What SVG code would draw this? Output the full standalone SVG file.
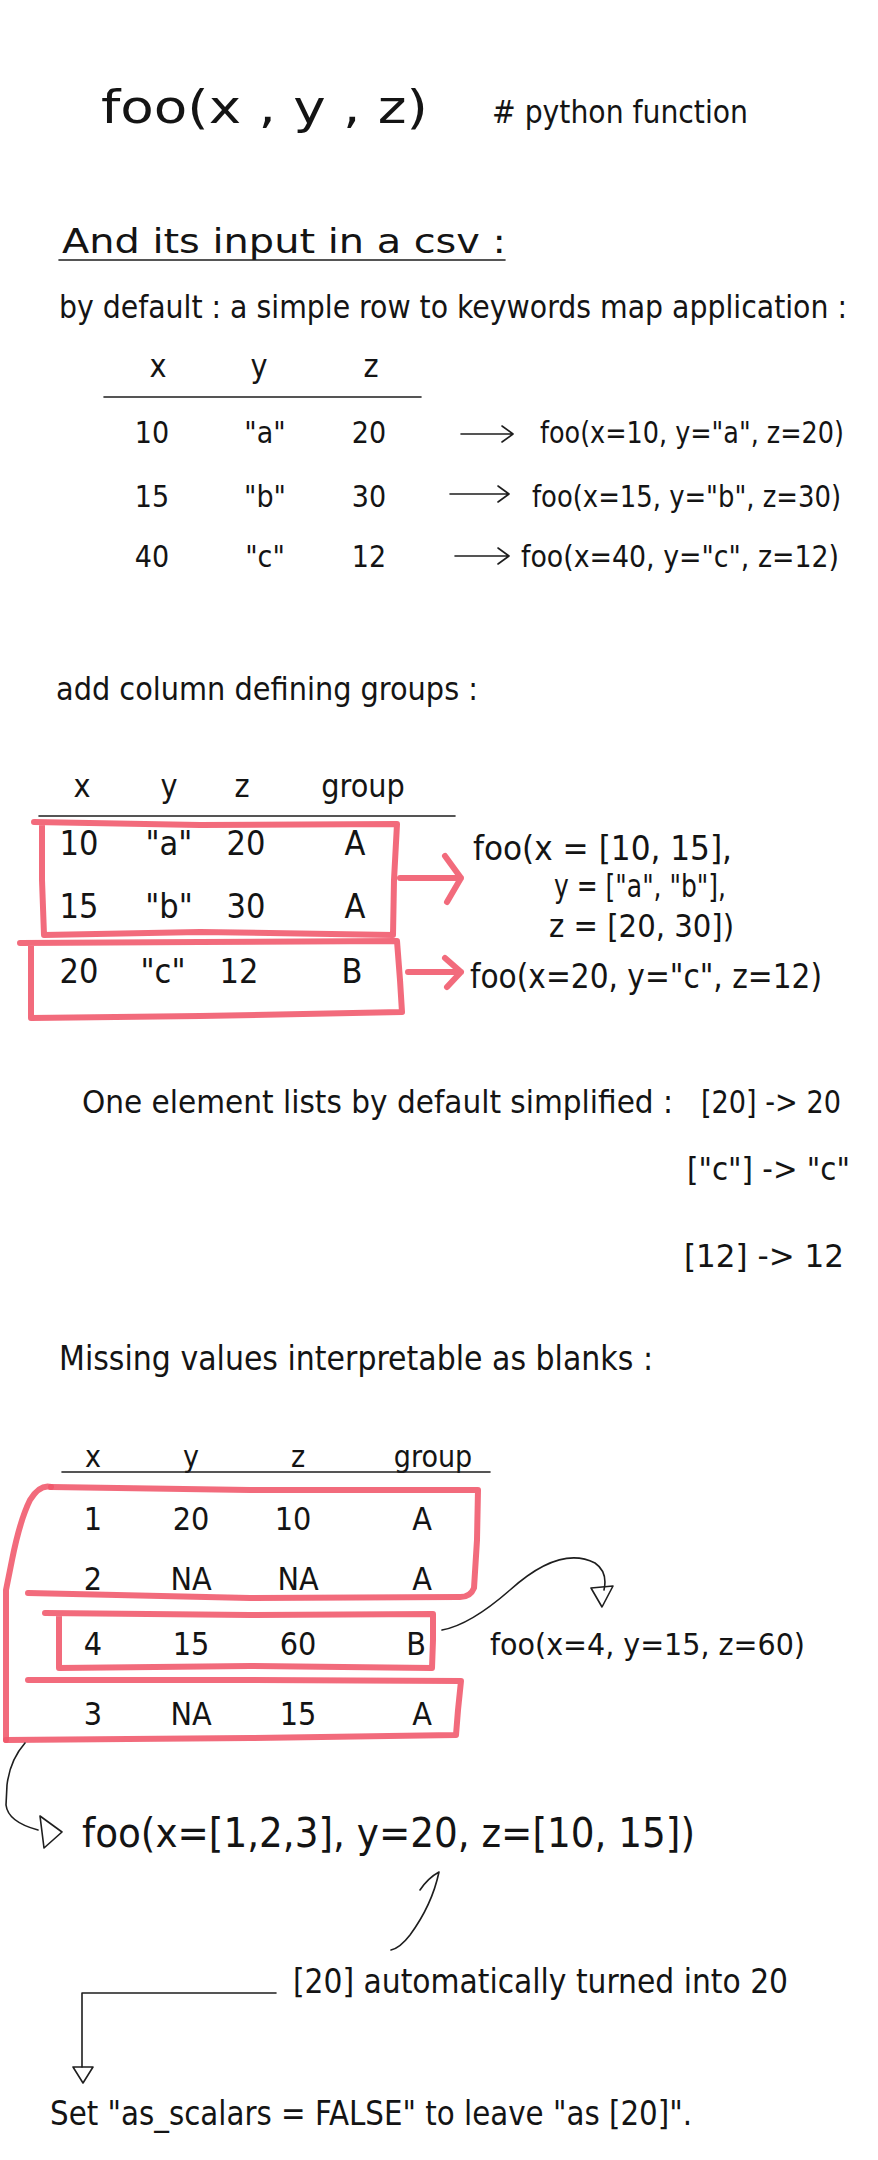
<svg xmlns="http://www.w3.org/2000/svg" width="878" height="2160" viewBox="0 0 878 2160">
<style>
.t{font-family:"Liberation Sans Narrow","DejaVu Sans Condensed","Liberation Sans",sans-serif;fill:#141414}
.c{text-anchor:middle}
.ln{fill:none;stroke:#1e1e1e;stroke-width:1.6;stroke-linecap:round;stroke-linejoin:round}
.red{fill:none;stroke:#f0566a;stroke-width:6;stroke-linecap:round;stroke-linejoin:round;opacity:0.88}
</style>
<rect width="878" height="2160" fill="#ffffff"/>

<g id="title">
<text class="t" x="101" y="123" font-size="46" textLength="327" lengthAdjust="spacingAndGlyphs">foo(x , y , z)</text>
<text class="t" x="492" y="123" font-size="32" textLength="256" lengthAdjust="spacingAndGlyphs"># python function</text>
</g>

<g id="heading-csv">
<text class="t" x="62" y="253" font-size="34" textLength="444" lengthAdjust="spacingAndGlyphs">And its input in a csv :</text>
<line class="ln" x1="59" y1="260" x2="505" y2="260"/>
</g>

<g id="default-text">
<text class="t" x="59" y="318" font-size="32" textLength="788" lengthAdjust="spacingAndGlyphs">by default : a simple row to keywords map application :</text>
</g>

<g id="table1">
<text class="t c" x="158" y="377" font-size="32">x</text>
<text class="t c" x="259" y="377" font-size="32">y</text>
<text class="t c" x="371" y="377" font-size="32">z</text>
<line class="ln" x1="104" y1="397" x2="421" y2="397"/>
<text class="t c" x="152" y="443" font-size="30">10</text>
<text class="t c" x="265" y="443" font-size="30">"a"</text>
<text class="t c" x="369" y="443" font-size="30">20</text>
<text class="t c" x="152" y="507" font-size="30">15</text>
<text class="t c" x="265" y="507" font-size="30">"b"</text>
<text class="t c" x="369" y="507" font-size="30">30</text>
<text class="t c" x="152" y="567" font-size="30">40</text>
<text class="t c" x="265" y="567" font-size="30">"c"</text>
<text class="t c" x="369" y="567" font-size="30">12</text>
</g>

<g id="calls1">
<text class="t" x="540" y="443" font-size="30" textLength="304" lengthAdjust="spacingAndGlyphs">foo(x=10, y="a", z=20)</text>
<text class="t" x="532" y="507" font-size="30" textLength="309" lengthAdjust="spacingAndGlyphs">foo(x=15, y="b", z=30)</text>
<text class="t" x="521" y="567" font-size="30" textLength="318" lengthAdjust="spacingAndGlyphs">foo(x=40, y="c", z=12)</text>
</g>

<g id="heading-groups">
<text class="t" x="56" y="700" font-size="32" textLength="422" lengthAdjust="spacingAndGlyphs">add column defining groups :</text>
</g>

<g id="table2">
<text class="t c" x="82" y="797" font-size="32">x</text>
<text class="t c" x="169" y="797" font-size="32">y</text>
<text class="t c" x="242" y="797" font-size="32">z</text>
<text class="t c" x="363" y="797" font-size="32">group</text>
<line class="ln" x1="39" y1="816" x2="455" y2="816"/>
<text class="t c" x="79" y="855" font-size="34">10</text>
<text class="t c" x="169" y="855" font-size="34">"a"</text>
<text class="t c" x="246" y="855" font-size="34">20</text>
<text class="t c" x="355" y="855" font-size="34">A</text>
<text class="t c" x="79" y="918" font-size="34">15</text>
<text class="t c" x="169" y="918" font-size="34">"b"</text>
<text class="t c" x="246" y="918" font-size="34">30</text>
<text class="t c" x="355" y="918" font-size="34">A</text>
<text class="t c" x="79" y="983" font-size="34">20</text>
<text class="t c" x="163" y="983" font-size="34">"c"</text>
<text class="t c" x="239" y="983" font-size="34">12</text>
<text class="t c" x="352" y="983" font-size="34">B</text>
</g>

<g id="group-boxes2">
<path class="red" d="M34,822 L200,825 L397,824 L394,880 L393,935 L200,932 L44,935 L42,880 L42,826"/>
<path class="red" d="M20,943 L200,942 L397,941 L400,980 L402,1012 L200,1016 L31,1018 L31,980 L31,945"/>
</g>

<g id="calls2">
<text class="t" x="473" y="860" font-size="34" textLength="259" lengthAdjust="spacingAndGlyphs">foo(x = [10, 15],</text>
<text class="t" x="554" y="897" font-size="32" textLength="172" lengthAdjust="spacingAndGlyphs">y = ["a", "b"],</text>
<text class="t" x="549" y="937" font-size="32" textLength="185" lengthAdjust="spacingAndGlyphs">z = [20, 30])</text>
<text class="t" x="470" y="988" font-size="34" textLength="352" lengthAdjust="spacingAndGlyphs">foo(x=20, y="c", z=12)</text>
</g>

<g id="simplify-note">
<text class="t" x="82" y="1113" font-size="32" textLength="591" lengthAdjust="spacingAndGlyphs">One element lists by default simplified :</text>
<text class="t" x="701" y="1113" font-size="32" textLength="140" lengthAdjust="spacingAndGlyphs">[20] -&gt; 20</text>
<text class="t" x="687" y="1180" font-size="32" textLength="163" lengthAdjust="spacingAndGlyphs">["c"] -&gt; "c"</text>
<text class="t" x="684" y="1267" font-size="32" textLength="160" lengthAdjust="spacingAndGlyphs">[12] -&gt; 12</text>
</g>

<g id="heading-missing">
<text class="t" x="59" y="1370" font-size="34" textLength="594" lengthAdjust="spacingAndGlyphs">Missing values interpretable as blanks :</text>
</g>

<g id="table3">
<text class="t c" x="93" y="1467" font-size="30">x</text>
<text class="t c" x="191" y="1467" font-size="30">y</text>
<text class="t c" x="298" y="1467" font-size="30">z</text>
<text class="t c" x="433" y="1467" font-size="30">group</text>
<line class="ln" x1="62" y1="1472" x2="490" y2="1472"/>
<text class="t c" x="93" y="1530" font-size="32">1</text>
<text class="t c" x="191" y="1530" font-size="32">20</text>
<text class="t c" x="293" y="1530" font-size="32">10</text>
<text class="t c" x="422" y="1530" font-size="32">A</text>
<text class="t c" x="93" y="1590" font-size="32">2</text>
<text class="t c" x="191" y="1590" font-size="32">NA</text>
<text class="t c" x="298" y="1590" font-size="32">NA</text>
<text class="t c" x="422" y="1590" font-size="32">A</text>
<text class="t c" x="93" y="1655" font-size="32">4</text>
<text class="t c" x="191" y="1655" font-size="32">15</text>
<text class="t c" x="298" y="1655" font-size="32">60</text>
<text class="t c" x="416" y="1655" font-size="32">B</text>
<text class="t c" x="93" y="1725" font-size="32">3</text>
<text class="t c" x="191" y="1725" font-size="32">NA</text>
<text class="t c" x="298" y="1725" font-size="32">15</text>
<text class="t c" x="422" y="1725" font-size="32">A</text>
</g>

<g id="group-boxes3">
<path class="red" d="M51,1487 L250,1490 L478,1490 L477,1540 L474,1588 Q470,1598 458,1597 L250,1598 L28,1593"/>
<path class="red" d="M51,1487 Q40,1484 30,1500 Q20,1520 12,1560 L6,1590 L6,1740"/>
<path class="red" d="M28,1680 L250,1680 L461,1681 L458,1710 L456,1735 L250,1738 L6,1740"/>
<path class="red" d="M45,1613 L250,1615 L433,1614 L433,1640 L432,1668 L250,1666 L59,1668 L59,1640 L59,1614"/>
</g>

<g id="call-b">
<text class="t" x="490" y="1655" font-size="30" textLength="315" lengthAdjust="spacingAndGlyphs">foo(x=4, y=15, z=60)</text>
</g>

<g id="call-a">
<text class="t" x="82" y="1847" font-size="40" textLength="613" lengthAdjust="spacingAndGlyphs">foo(x=[1,2,3], y=20, z=[10, 15])</text>
</g>

<g id="auto-note">
<text class="t" x="293" y="1993" font-size="34" textLength="495" lengthAdjust="spacingAndGlyphs">[20] automatically turned into 20</text>
</g>

<g id="scalar-note">
<text class="t" x="50" y="2125" font-size="34" textLength="642" lengthAdjust="spacingAndGlyphs">Set "as_scalars = FALSE" to leave "as [20]".</text>
</g>

<g id="connectors">
<path class="ln" d="M461,434 L513,434 M502,426 L513,434 L502,442"/>
<path class="ln" d="M450,494 L509,494 M498,486 L509,494 L498,502"/>
<path class="ln" d="M455,556 L509,556 M498,548 L509,556 L498,564"/>
<path class="red" d="M400,878 L461,878 M445,856 L461,878 L447,902"/>
<path class="red" d="M408,972 L461,972 M445,958 L461,972 L447,987"/>
<path class="ln" d="M442,1630 Q470,1625 510,1590 Q560,1545 595,1563 Q608,1572 604,1590"/>
<path class="ln" d="M591,1588 L613,1586 L602,1607 Z"/>
<path class="ln" d="M25,1743 Q10,1760 7,1785 L6,1805 Q8,1822 38,1830"/>
<path class="ln" d="M40,1816 L62,1832 L44,1848 Z"/>
<path class="ln" d="M391,1950 Q400,1948 410,1935 Q432,1905 439,1872 M420,1890 Q428,1878 439,1872"/>
<path class="ln" d="M276,1993 L82,1993 L82,2067"/>
<path class="ln" d="M73,2067 L93,2067 L83,2083 Z"/>
</g>
</svg>
